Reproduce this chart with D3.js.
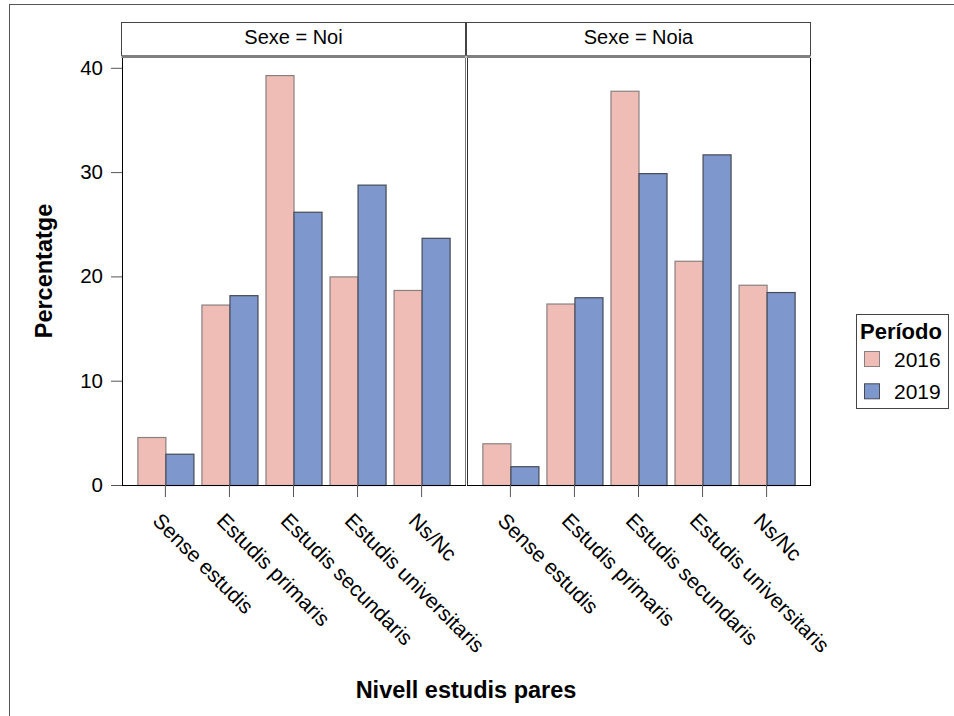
<!DOCTYPE html>
<html><head><meta charset="utf-8">
<script src="https://cdn.jsdelivr.net/npm/d3@7"></script>
<style>body{margin:0;background:#fff}svg{display:block}text{font-family:"Liberation Sans",Arial,sans-serif;fill:#000}</style>
</head><body>
<script>
const categories = ["Sense estudis","Estudis primaris","Estudis secundaris","Estudis universitaris","Ns/Nc"];
const panels = ["Noi","Noia"];
const periods = ["2016","2019"];
const noi2016 = [4.6, 17.3, 39.3, 20.0, 18.7];
const noi2019 = [3.0, 18.2, 26.2, 28.8, 23.7];
const noia2016 = [4.0, 17.4, 37.8, 21.5, 19.2];
const noia2019 = [1.8, 18.0, 29.9, 31.7, 18.5];
const yTicks = [0, 10, 20, 30, 40];
const colors = ["#EFBDB6", "#7E97CC"];
const strokes = ["#8a8080", "#454a55"];

const values = {Noi:[noi2016, noi2019], Noia:[noia2016, noia2019]};

const W = 954, H = 716;
const svg = d3.select("body").append("svg").attr("width", W).attr("height", H);
svg.append("rect").attr("width", W).attr("height", H).attr("fill", "#fff");
svg.append("rect").attr("x", 9.5).attr("y", 4.5).attr("width", 1000).attr("height", 1000)
  .attr("fill", "none").attr("stroke", "#555");

const plotTop = 58, plotBottom = 485;
const y = d3.scaleLinear().domain([0, 40]).range([plotBottom, 67.8]);
const panelX = [[122, 465], [467, 810]];

// y axis
const yAxis = svg.append("g").attr("transform", `translate(122,0)`)
  .call(d3.axisLeft(y).tickValues(yTicks).tickSize(11).tickPadding(8));
yAxis.select(".domain").remove();
yAxis.selectAll("line").attr("stroke", "#555");
yAxis.selectAll("text").style("font-size", "20.5px").attr("font-family", null).attr("fill", "#000");

panels.forEach((p, pi) => {
  const [x0, x1] = panelX[pi];
  const x = d3.scaleBand().domain(categories).range([x0, x1]).paddingInner(0.125).paddingOuter(0.24);
  const xs = d3.scaleBand().domain(periods).range([0, x.bandwidth()]);
  const g = svg.append("g");
  // strip
  g.append("rect").attr("x", x0 - 0.5).attr("y", 22.5).attr("width", x1 - x0 + 1).attr("height", 33)
    .attr("fill", "#fff").attr("stroke", "#444");
  g.append("line").attr("x1", x0 - 0.5).attr("x2", x1 + 0.5).attr("y1", 56.5).attr("y2", 56.5)
    .attr("stroke", "#808080").attr("stroke-width", 3);
  g.append("text").attr("x", (x0 + x1) / 2).attr("y", 44).attr("text-anchor", "middle")
    .style("font-size", "20px").text("Sexe = " + p);
  // bars
  periods.forEach((per, k) => {
    g.selectAll(null).data(categories).join("rect")
      .attr("x", c => x(c) + xs(per) + 0.5)
      .attr("y", (c, i) => y(values[p][k][i]) + 0.5)
      .attr("width", xs.bandwidth())
      .attr("height", (c, i) => plotBottom - y(values[p][k][i]))
      .attr("fill", colors[k]).attr("stroke", strokes[k]).attr("stroke-width", 1.2);
  });
  // panel frame
  g.append("line").attr("x1", x0 + 0.5).attr("x2", x0 + 0.5).attr("y1", plotTop).attr("y2", plotBottom)
    .attr("stroke", pi === 0 ? "#000" : "#333");
  g.append("line").attr("x1", x1 + 0.5).attr("x2", x1 + 0.5).attr("y1", plotTop).attr("y2", plotBottom)
    .attr("stroke", pi === 0 ? "#777" : "#000");
  g.append("line").attr("x1", x0).attr("x2", x1 + 1).attr("y1", plotBottom + 0.5).attr("y2", plotBottom + 0.5)
    .attr("stroke", "#000");
  // x axis
  const xa = g.append("g").attr("transform", `translate(0,${plotBottom})`)
    .call(d3.axisBottom(x).tickSize(12).tickFormat(""));
  xa.select(".domain").remove();
  xa.selectAll("line").attr("stroke", "#555");
  xa.selectAll(".tick").append("text")
    .attr("transform", "translate(-14,37) rotate(45)")
    .attr("text-anchor", "start").attr("fill", "#000")
    .style("font-size", "21px").attr("font-family", null)
    .text(d => d);
});

// axis titles
svg.append("text").attr("transform", `translate(52,271) rotate(-90)`).attr("text-anchor", "middle")
  .style("font-size", "23.5px").style("font-weight", "bold").text("Percentatge");
svg.append("text").attr("x", 466).attr("y", 698).attr("text-anchor", "middle")
  .style("font-size", "23.5px").style("font-weight", "bold").text("Nivell estudis pares");

// legend
const lg = svg.append("g");
lg.append("rect").attr("x", 856.5).attr("y", 314.5).attr("width", 92).attr("height", 94)
  .attr("fill", "#fff").attr("stroke", "#444");
lg.append("text").attr("x", 860).attr("y", 339).style("font-size", "22px").style("font-weight", "bold").text("Período");
periods.forEach((per, k) => {
  lg.append("rect").attr("x", 864.5).attr("y", 351.5 + k * 32.3).attr("width", 15).attr("height", 15)
    .attr("fill", colors[k]).attr("stroke", strokes[k]);
  lg.append("text").attr("x", 894).attr("y", 367 + k * 32.3).style("font-size", "21px").text(per);
});
</script>
</body></html>
